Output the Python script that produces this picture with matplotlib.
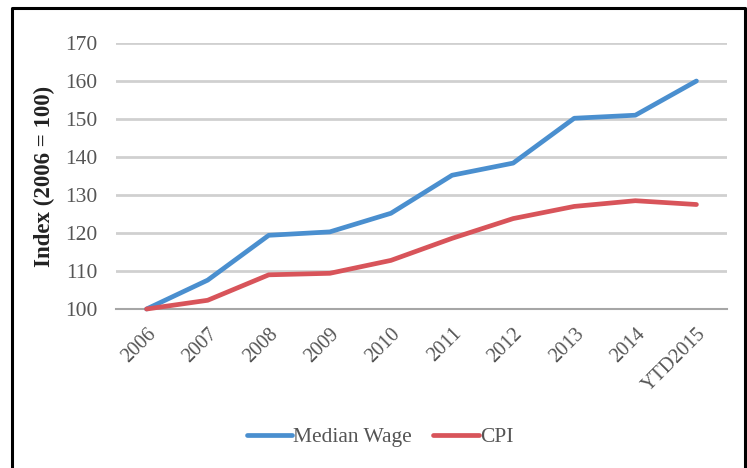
import matplotlib
matplotlib.use("Agg")
import matplotlib.pyplot as plt
from matplotlib.lines import Line2D

# Data
years = ["2006", "2007", "2008", "2009", "2010", "2011", "2012", "2013", "2014", "YTD2015"]
median_wage = [100, 107.6, 119.4, 120.3, 125.2, 135.2, 138.4, 150.2, 151.0, 160.0]
cpi = [100, 102.3, 109.0, 109.4, 112.8, 118.6, 123.8, 127.0, 128.5, 127.5]
y_ticks = [100, 110, 120, 130, 140, 150, 160, 170]

blue = "#4a8fcf"
red = "#d8545a"
grey_text = "#555555"

plt.rcParams["font.family"] = ["Liberation Serif", "DejaVu Serif"]

fig = plt.figure(figsize=(7.47, 4.68), dpi=100)
ax = fig.add_axes([0.1553, 0.3397, 0.8179, 0.5684])

x = list(range(len(years)))
ax.plot(x, median_wage, color=blue, lw=3.4, solid_capstyle="round",
        solid_joinstyle="round", label="Median Wage", clip_on=False, zorder=3)
ax.plot(x, cpi, color=red, lw=3.4, solid_capstyle="round",
        solid_joinstyle="round", label="CPI", clip_on=False, zorder=3)

ax.set_xlim(-0.5, len(years) - 0.5)
ax.set_ylim(100, 170)
ax.set_yticks(y_ticks)
ax.set_xticks(x)
ax.set_xticklabels(years, rotation=45, ha="right", rotation_mode="anchor")

# gridlines only, bottom axis line kept
for s in ["top", "right", "left"]:
    ax.spines[s].set_visible(False)
ax.spines["bottom"].set_color("#a6a6a6")
ax.spines["bottom"].set_linewidth(1.5)
ax.yaxis.grid(True, color="#d0d0d0", lw=2)
ax.set_axisbelow(True)
ax.tick_params(axis="both", length=0, colors=grey_text)
ax.tick_params(axis="y", labelsize=15.5, pad=13.5)
ax.tick_params(axis="x", labelsize=14.5, pad=11)

ax.set_ylabel("Index (2006 = 100)", fontsize=16.5, fontweight="bold", labelpad=7,
              color="#222222")

leg = fig.legend(loc="center", bbox_to_anchor=(380 / 747, 1 - 437 / 468), ncol=2,
                 frameon=False, fontsize=15.5, handlelength=2.1, handletextpad=0.05,
                 columnspacing=1.0)
for t in leg.get_texts():
    t.set_color(grey_text)

# black border: left, top, right (no bottom edge)
bx0, bx1 = 11.5 / 747, 744.5 / 747
by1 = 1 - 8 / 468
fig.add_artist(Line2D([bx0, bx0, bx1, bx1], [0, by1, by1, 0],
                      transform=fig.transFigure, color="black", lw=2.2))

fig.savefig("out.png", dpi=100)
